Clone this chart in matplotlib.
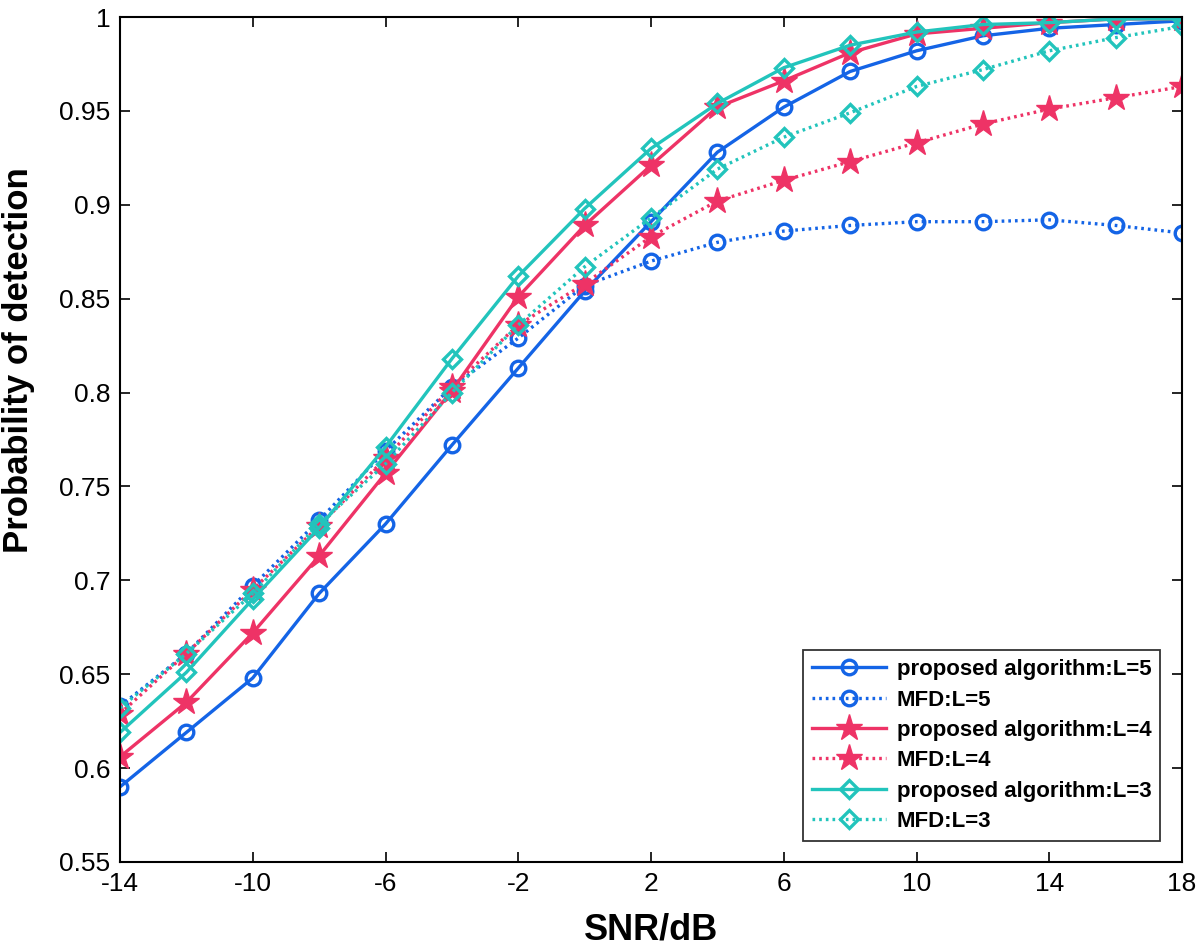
import matplotlib
matplotlib.use("Agg")
import matplotlib.pyplot as plt

snr = [-14, -12, -10, -8, -6, -4, -2, 0, 2, 4, 6, 8, 10, 12, 14, 16, 18]

prop_L5 = [0.590, 0.619, 0.648, 0.693, 0.730, 0.772, 0.813, 0.854, 0.891, 0.928, 0.952, 0.971, 0.982, 0.990, 0.994, 0.996, 0.998]
mfd_L5 = [0.633, 0.661, 0.697, 0.732, 0.769, 0.803, 0.829, 0.857, 0.870, 0.880, 0.886, 0.889, 0.891, 0.891, 0.892, 0.889, 0.885]
prop_L4 = [0.606, 0.635, 0.672, 0.713, 0.757, 0.801, 0.851, 0.889, 0.921, 0.952, 0.966, 0.981, 0.991, 0.994, 0.997, 0.999, 0.999]
mfd_L4 = [0.629, 0.661, 0.695, 0.729, 0.765, 0.803, 0.836, 0.858, 0.883, 0.902, 0.913, 0.923, 0.933, 0.943, 0.951, 0.957, 0.963]
prop_L3 = [0.619, 0.651, 0.690, 0.728, 0.771, 0.818, 0.862, 0.898, 0.930, 0.954, 0.973, 0.985, 0.992, 0.996, 0.997, 0.999, 0.999]
mfd_L3 = [0.632, 0.661, 0.693, 0.730, 0.762, 0.800, 0.836, 0.867, 0.893, 0.919, 0.936, 0.949, 0.963, 0.972, 0.982, 0.989, 0.995]

labels = ["proposed algorithm:L=5", "MFD:L=5", "proposed algorithm:L=4",
          "MFD:L=4", "proposed algorithm:L=3", "MFD:L=3"]
xticks = [-14, -10, -6, -2, 2, 6, 10, 14, 18]
yticks = [0.55, 0.6, 0.65, 0.7, 0.75, 0.8, 0.85, 0.9, 0.95, 1.0]
yticklabels = ["0.55", "0.6", "0.65", "0.7", "0.75", "0.8", "0.85", "0.9", "0.95", "1"]

blue = "#1464E6"
red = "#EE3366"
cyan = "#22C4BC"

plt.rcParams['font.family'] = ['Liberation Sans', 'DejaVu Sans']
plt.rcParams['axes.unicode_minus'] = False

fig = plt.figure(figsize=(12, 9.51), dpi=100)
ax = fig.add_axes([0.1, 0.0936, 0.885, 0.8885])

dot = (0, (0.8, 1.2))
lw = 2.4
ax.plot(snr, prop_L5, color=blue, lw=lw, ls='-', marker='o', ms=10.5, mfc='none', mew=2.4, label=labels[0])
ax.plot(snr, mfd_L5, color=blue, lw=lw, ls=dot, marker='o', ms=10.5, mfc='none', mew=2.4, label=labels[1])
ax.plot(snr, prop_L4, color=red, lw=lw, ls='-', marker='*', ms=20, mfc=red, mew=1, label=labels[2])
ax.plot(snr, mfd_L4, color=red, lw=lw, ls=dot, marker='*', ms=20, mfc=red, mew=1, label=labels[3])
ax.plot(snr, prop_L3, color=cyan, lw=lw, ls='-', marker='D', ms=9, mfc='none', mew=2.4, label=labels[4])
ax.plot(snr, mfd_L3, color=cyan, lw=lw, ls=dot, marker='D', ms=9, mfc='none', mew=2.4, label=labels[5])

ax.set_xlim(-14, 18)
ax.set_ylim(0.55, 1.0)
ax.set_xticks(xticks)
ax.set_yticks(yticks)
ax.set_yticklabels(yticklabels)
ax.tick_params(direction='in', top=True, right=True, labelsize=19, length=7, width=1.2, pad=7)
for s in ax.spines.values():
    s.set_linewidth(1.5)

ax.set_xlabel("SNR/dB", fontsize=26, fontweight='bold')
ax.xaxis.label.set_va('center')
ax.xaxis.set_label_coords(0.5, -0.081)
ax.set_ylabel("Probability of detection", fontsize=25, fontweight='bold')
ax.yaxis.label.set_va('center')
ax.yaxis.set_label_coords(-0.096, 0.594)

leg = ax.legend(loc='lower right', bbox_to_anchor=(0.99, 0.012), prop={'weight': 'bold', 'size': 16},
                frameon=True, fancybox=False, edgecolor='black', handlelength=3.3,
                borderpad=0.4, labelspacing=0.42, handletextpad=0.5)
leg.get_frame().set_linewidth(1.3)

fig.savefig("out.png", dpi=100)
